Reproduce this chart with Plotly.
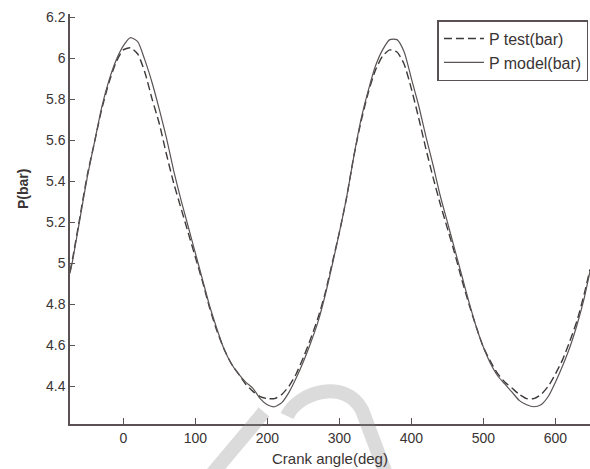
import plotly.graph_objects as go

# Crank angle samples (deg)
crank_angle = [-74, -70, -60, -50, -40, -30, -20, -10, 0, 10, 20, 30, 40, 50, 60, 70, 80, 90,
               100, 110, 120, 130, 140, 150, 160, 170, 180, 190, 200, 210, 220, 230, 240, 250,
               260, 270, 280, 290, 300, 310, 320, 330, 340, 350, 360, 370, 380, 390, 400, 410,
               420, 430, 440, 450, 460, 470, 480, 490, 500, 510, 520, 530, 540, 550, 560, 570,
               580, 590, 600, 610, 620, 630, 640, 648]

# Measured pressure (bar)
p_test = [4.96, 5.03, 5.23, 5.43, 5.59, 5.75, 5.88, 5.98, 6.04, 6.05, 6.02, 5.93, 5.80, 5.68,
          5.53, 5.39, 5.27, 5.15, 5.03, 4.91, 4.78, 4.67, 4.58, 4.51, 4.46, 4.41, 4.375, 4.35,
          4.34, 4.34, 4.36, 4.40, 4.46, 4.54, 4.63, 4.73, 4.85, 5.00, 5.15, 5.32, 5.52, 5.69,
          5.83, 5.94, 6.01, 6.04, 6.03, 5.97, 5.85, 5.71, 5.56, 5.42, 5.29, 5.17, 5.05, 4.92,
          4.80, 4.69, 4.59, 4.52, 4.46, 4.42, 4.39, 4.36, 4.34, 4.34, 4.36, 4.40, 4.46, 4.53,
          4.62, 4.72, 4.85, 4.97]

# Model pressure (bar)
p_model = [4.95, 5.02, 5.22, 5.42, 5.59, 5.76, 5.89, 5.99, 6.06, 6.10, 6.08, 5.99, 5.88, 5.75,
           5.61, 5.45, 5.31, 5.18, 5.05, 4.92, 4.79, 4.68, 4.58, 4.51, 4.46, 4.42, 4.39, 4.34,
           4.31, 4.30, 4.32, 4.37, 4.44, 4.52, 4.61, 4.71, 4.84, 4.99, 5.15, 5.32, 5.52, 5.70,
           5.84, 5.96, 6.04, 6.09, 6.09, 6.03, 5.90, 5.77, 5.62, 5.48, 5.33, 5.20, 5.07, 4.94,
           4.81, 4.69, 4.59, 4.51, 4.45, 4.41, 4.37, 4.33, 4.31, 4.30, 4.31, 4.35, 4.42, 4.50,
           4.59, 4.70, 4.83, 4.96]

x_ticks = [0, 100, 200, 300, 400, 500, 600]
y_ticks = [4.4, 4.6, 4.8, 5.0, 5.2, 5.4, 5.6, 5.8, 6.0, 6.2]
y_tick_text = ["4.4", "4.6", "4.8", "5", "5.2", "5.4", "5.6", "5.8", "6", "6.2"]

line_col = "#3f3a3a"
axis_col = "#5a5252"
text_col = "#3a3434"
font_family = "Liberation Sans, Arial, sans-serif"

fig = go.Figure()
fig.add_trace(go.Scatter(
    x=crank_angle, y=p_test, mode="lines", name="P test(bar)",
    line=dict(color=line_col, width=1.4, dash="8px,4px", shape="spline", smoothing=0.6),
))
fig.add_trace(go.Scatter(
    x=crank_angle, y=p_model, mode="lines", name="P model(bar)",
    line=dict(color="#5a5454", width=1.2, shape="spline", smoothing=0.6),
))

W, H = 590, 469
L, R, T, B = 70, 0, 14, 45
pw, ph = W - L - R, H - T - B


def px(xp):
    return (xp - L) / pw


def py(yp):
    return (H - B - yp) / ph


# Faint watermark strokes across the bottom of the figure
wm_path = (f"M {px(287)},{py(416)} C {px(298)},{py(392)} {px(345)},{py(378)} "
           f"{px(362)},{py(410)} L {px(386)},{py(474)} "
           f"M {px(212)},{py(474)} L {px(264)},{py(412)}")
fig.add_shape(type="path", path=wm_path, xref="paper", yref="paper", layer="above",
              opacity=0.3, line=dict(color="#8a8a8a", width=14))

fig.update_layout(
    width=W, height=H,
    margin=dict(l=L, r=R, t=T, b=B),
    paper_bgcolor="white", plot_bgcolor="white",
    font=dict(family=font_family, size=14, color=text_col),
    showlegend=True,
    legend=dict(
        x=0.997, y=0.985, xanchor="right", yanchor="top",
        bgcolor="white", bordercolor=axis_col, borderwidth=1.5,
        font=dict(size=16, color=text_col),
        tracegroupgap=0, itemwidth=40,
    ),
    xaxis=dict(
        range=[-74, 648], tickvals=x_ticks, ticks="inside", ticklen=6,
        tickcolor=axis_col, showline=True, linecolor=axis_col, linewidth=1.5,
        showgrid=False, zeroline=False, mirror=False,
        tickfont=dict(size=14, color=text_col),
    ),
    yaxis=dict(
        range=[4.216, 6.215], tickvals=y_ticks, ticktext=y_tick_text, ticks="inside",
        ticklen=5, tickcolor=axis_col, showline=True, linecolor=axis_col, linewidth=1.5,
        showgrid=False, zeroline=False, mirror=False,
        tickfont=dict(size=14, color=text_col),
    ),
    annotations=[
        dict(text="Crank angle(deg)", x=px(330), y=py(458), xref="paper", yref="paper",
             xanchor="center", yanchor="middle",
             showarrow=False, font=dict(size=15, color=text_col)),
        dict(text="<b>P(bar)</b>", x=px(23), y=py(189), xref="paper", yref="paper",
             xanchor="center", yanchor="middle",
             showarrow=False, textangle=-90, font=dict(size=14, color=text_col)),
    ],
)

fig.write_html("out.html")
